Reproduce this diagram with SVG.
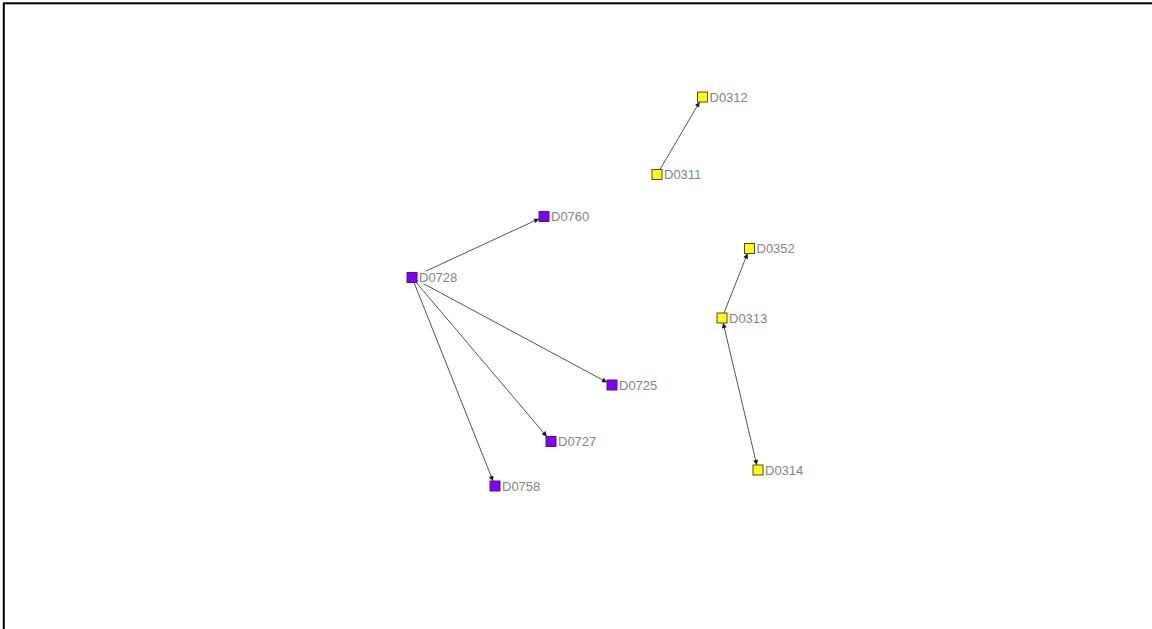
<svg xmlns="http://www.w3.org/2000/svg" width="1152" height="629" viewBox="0 0 1152 629">
<style>
.edge{stroke:#555555;stroke-width:1;fill:none}
.node rect{stroke-width:1}
.purple rect{fill:#8000ff;stroke:#4a1a80}
.yellow rect{fill:#ffff00;stroke:#4a4a30}
.node text{font-family:"Liberation Sans",Arial,sans-serif;font-size:13px;fill:#858585;stroke:#ffffff;stroke-width:4;paint-order:stroke;stroke-linejoin:round}
</style>
<defs>
<marker id="arr" viewBox="0 0 6 6" refX="6" refY="3" markerWidth="6" markerHeight="5" markerUnits="userSpaceOnUse" orient="auto-start-reverse">
<path d="M0,0 L6,3 L0,6 z" fill="#1a1a1a"/>
</marker>
</defs>
<rect x="3.8" y="3.3" width="1300" height="800" fill="#ffffff" stroke="#000000" stroke-width="2"/>
<g id="connectors">
<line class="edge" x1="412" y1="277.5" x2="539" y2="218.8" marker-end="url(#arr)"/>
<line class="edge" x1="412" y1="277.5" x2="607" y2="382.3" marker-end="url(#arr)"/>
<line class="edge" x1="412" y1="277.5" x2="546.8" y2="436.5" marker-end="url(#arr)"/>
<line class="edge" x1="412" y1="277.5" x2="493" y2="481" marker-end="url(#arr)"/>
<line class="edge" x1="657" y1="174.5" x2="699.6" y2="102" marker-end="url(#arr)"/>
<line class="edge" x1="722" y1="318" x2="747.5" y2="253.5" marker-end="url(#arr)"/>
<line class="edge" x1="723.2" y1="323" x2="756.8" y2="465" marker-start="url(#arr)" marker-end="url(#arr)"/>
</g>
<g id="D0728" class="node purple"><text x="419" y="282">D0728</text><rect x="407" y="272.5" width="10" height="10"/></g>
<g id="D0760" class="node purple"><text x="551" y="221">D0760</text><rect x="539" y="211.5" width="10" height="10"/></g>
<g id="D0725" class="node purple"><text x="619" y="389.5">D0725</text><rect x="607" y="380" width="10" height="10"/></g>
<g id="D0727" class="node purple"><text x="558" y="446">D0727</text><rect x="546" y="436.5" width="10" height="10"/></g>
<g id="D0758" class="node purple"><text x="502" y="490.5">D0758</text><rect x="490" y="481" width="10" height="10"/></g>
<g id="D0312" class="node yellow"><text x="709.5" y="101.5">D0312</text><rect x="697.5" y="92" width="10" height="10"/></g>
<g id="D0311" class="node yellow"><text x="664" y="179">D0311</text><rect x="652" y="169.5" width="10" height="10"/></g>
<g id="D0352" class="node yellow"><text x="756.5" y="253">D0352</text><rect x="744.5" y="243.5" width="10" height="10"/></g>
<g id="D0313" class="node yellow"><text x="729" y="322.5">D0313</text><rect x="717" y="313" width="10" height="10"/></g>
<g id="D0314" class="node yellow"><text x="765" y="474.5">D0314</text><rect x="753" y="465" width="10" height="10"/></g>
</svg>
